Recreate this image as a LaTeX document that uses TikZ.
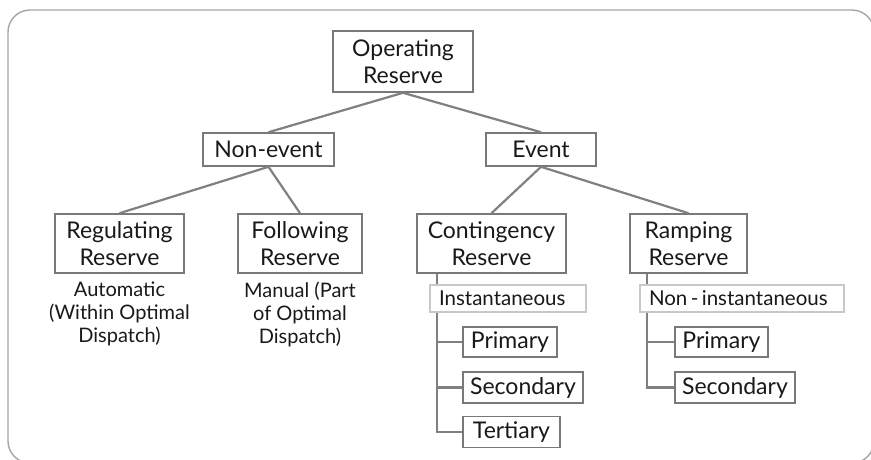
\documentclass[tikz,border=0pt]{standalone}
\usepackage{fontspec}
\setmainfont{Lato}
\definecolor{lineg}{RGB}{128,128,128}
\definecolor{boxg}{RGB}{120,120,120}
\definecolor{lightg}{RGB}{200,200,200}
\definecolor{frameg}{RGB}{165,165,165}
\begin{document}
\begin{tikzpicture}[x=1pt,y=-1pt,
  box/.style={draw=boxg,line width=1.6pt,fill=white,inner sep=0pt,align=center,
    font=\fontsize{23}{24}\selectfont,text=black!90},
  subbox/.style={draw=lightg,line width=1.6pt,fill=white,inner sep=0pt,
    font=\fontsize{20.5}{20}\selectfont,text=black!90},
  note/.style={align=center,font=\fontsize{20}{21}\selectfont,text=black!90},
  conn/.style={draw=lineg,line width=2.2pt}]
\useasboundingbox (0,0) rectangle (871,459);
\begin{scope}
\clip (0,0) rectangle (871,459);
\draw[frameg,line width=1.4pt,rounded corners=22pt] (8,10) rectangle (874,463);
\end{scope}
% nodes
\node[box,minimum width=140,minimum height=61] (op) at (403,61.5) {Operating\\[3pt]Reserve};
\node[box,minimum width=131,minimum height=33] (ne) at (268.5,149.5) {Non-event};
\node[box,minimum width=110,minimum height=33] (ev) at (541,149.5) {Event};
\node[box,minimum width=129,minimum height=59] (reg) at (119.5,243.5) {Regulating\\[3pt]Reserve};
\node[box,minimum width=124,minimum height=59] (fol) at (300,243.5) {Following\\[3pt]Reserve};
\node[box,minimum width=149,minimum height=59] (con) at (491.5,243.5) {Contingency\\[3pt]Reserve};
\node[box,minimum width=117,minimum height=59] (ram) at (688.5,243.5) {Ramping\\[3pt]Reserve};
\node[note,anchor=north] (an1) at (119.5,278) {Automatic\\[2pt](Within Optimal\\[2pt]Dispatch)};
\node[note,anchor=north] (an2) at (300,278) {Manual (Part\\[2pt]of Optimal\\[2pt]Dispatch)};
\node[subbox,minimum width=156,minimum height=27,text width=138,align=left] (inst) at (508,298.5) {Instantaneous};
\node[subbox,minimum width=204,minimum height=27,text width=186,align=left] (ninst) at (742,298.5) {Non\,-\,instantaneous};
\node[box,minimum width=94,minimum height=30] (p1) at (510,342) {Primary};
\node[box,minimum width=120,minimum height=31] (s1) at (523,387.5) {Secondary};
\node[box,minimum width=97,minimum height=31] (t1) at (511.5,432) {Tertiary};
\node[box,minimum width=93,minimum height=30] (p2) at (721.5,342) {Primary};
\node[box,minimum width=120,minimum height=31] (s2) at (735,387.5) {Secondary};
\coordinate (cx) at (437,0);
\coordinate (rx) at (647,0);
% connectors
\draw[conn] (op.south) -- (ne.north);
\draw[conn] (op.south) -- (ev.north);
\draw[conn] (ne.south) -- (reg.north);
\draw[conn] (ne.south) -- (fol.north);
\draw[conn] (ev.south) -- (con.north);
\draw[conn] (ev.south) -- (ram.north);
\draw[conn] (cx |- con.south) -- (cx |- inst.north);
\draw[conn] (cx |- inst.south) |- (t1.west);
\draw[conn] (cx |- p1.west) -- (p1.west);
\draw[conn] (cx |- s1.west) -- (s1.west);
\draw[conn] (rx |- ram.south) -- (rx |- ninst.north);
\draw[conn] (rx |- ninst.south) |- (s2.west);
\draw[conn] (rx |- p2.west) -- (p2.west);
\end{tikzpicture}
\end{document}
